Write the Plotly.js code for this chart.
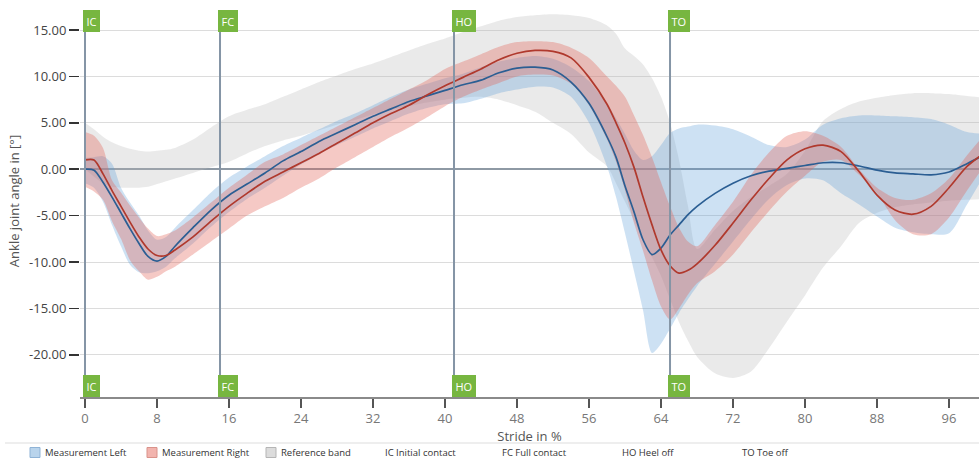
<!DOCTYPE html>
<html>
<head>
<meta charset="utf-8">
<script src="https://cdn.plot.ly/plotly-3.0.1.min.js"></script>
<style>
  html, body { margin: 0; padding: 0; background: #ffffff; }
  #chart { width: 979px; height: 461px; }
</style>
</head>
<body>
<div id="chart"></div>
<script>
// ---------------- data ----------------
const stride = [0,1,2,3,4,5,6,7,8,9,10,12,14,16,18,20,22,24,26,28,30,32,34,36,38,40,42,44,46,48,50,52,54,56,58,59,60,61,62,63,64,65,66,67,68,70,72,74,76,78,80,82,84,86,88,90,92,94,96,98,100];

const leftMean = [0.0,-0.1,-1.4,-3.0,-4.7,-6.4,-8.0,-9.4,-9.9,-9.4,-8.3,-6.3,-4.4,-2.8,-1.6,-0.4,0.9,1.9,3.0,3.9,4.8,5.7,6.5,7.3,7.9,8.5,9.1,9.6,10.4,10.9,11.0,10.7,9.4,7.1,3.5,1.3,-1.8,-4.6,-7.6,-9.2,-8.5,-7.1,-6.0,-4.9,-4.0,-2.6,-1.5,-0.7,-0.2,0.1,0.4,0.7,0.7,0.35,-0.1,-0.4,-0.5,-0.6,-0.3,0.6,1.6];
const leftUpper = [1.2,1.3,1.4,0.6,-2.0,-3.6,-5.0,-6.6,-7.6,-7.3,-6.3,-4.4,-2.5,-0.9,0.3,1.4,2.5,3.4,4.3,5.2,6.0,6.9,7.8,8.6,9.2,9.8,10.3,11.0,11.6,12.0,12.2,11.9,11.0,9.5,7.0,5.5,3.8,2.0,1.0,1.4,2.6,3.9,4.4,4.6,4.8,4.7,4.3,3.5,2.6,2.4,3.2,4.8,5.5,5.8,5.8,5.7,5.6,5.4,4.8,4.0,3.8];
const leftLower = [-1.5,-2.0,-3.5,-6.0,-8.3,-10.3,-11.1,-11.2,-11.0,-10.5,-9.6,-8.0,-6.2,-4.6,-3.2,-2.0,-0.7,0.5,1.6,2.6,3.5,4.4,5.2,6.0,6.6,7.0,7.1,7.6,8.2,8.6,8.9,8.8,7.8,5.0,0.3,-3.0,-6.9,-11.0,-15.2,-19.8,-18.8,-17.2,-15.5,-14.0,-12.6,-10.2,-7.8,-5.4,-3.2,-1.7,-1.0,-1.2,-2.6,-3.8,-5.1,-6.3,-6.8,-7.0,-6.9,-3.8,-0.5];

const rightMean = [1.0,1.0,-0.5,-2.3,-4.0,-5.7,-7.3,-8.6,-9.3,-9.3,-8.7,-7.3,-5.6,-4.0,-2.6,-1.3,-0.3,0.7,1.7,2.8,3.9,5.0,6.0,6.9,8.0,9.0,9.9,10.8,11.8,12.5,12.8,12.7,12.0,9.9,7.0,5.0,2.8,0.2,-3.0,-6.0,-8.7,-10.4,-11.2,-10.9,-10.2,-8.2,-5.8,-3.3,-1.0,1.0,2.2,2.6,1.9,-0.25,-2.8,-4.4,-4.85,-4.0,-2.0,0.3,1.8];
const rightUpper = [4.0,3.6,2.3,-1.2,-2.5,-3.9,-5.2,-6.4,-7.2,-7.0,-6.6,-5.2,-3.6,-2.0,-0.6,0.8,1.6,2.6,3.6,4.6,5.6,6.6,7.6,8.6,9.6,10.8,11.6,12.4,13.2,13.7,13.8,13.7,13.1,12.0,10.0,9.0,7.8,5.8,3.7,1.3,-1.4,-4.0,-6.3,-7.8,-8.3,-6.0,-3.5,-0.6,1.8,3.6,4.1,3.6,2.4,0.0,-2.0,-3.1,-3.3,-2.6,-1.0,1.5,3.8];
const rightLower = [-1.9,-2.4,-3.3,-5.6,-7.5,-9.8,-11.0,-11.9,-11.6,-11.0,-10.5,-9.2,-7.8,-6.4,-5.0,-4.0,-3.1,-2.0,-1.0,0.2,1.3,2.4,3.5,4.5,5.6,6.8,7.8,8.6,9.3,10.0,10.2,10.1,9.2,6.9,3.2,0.8,-2.3,-5.8,-8.8,-12.0,-14.8,-16.2,-15.0,-13.5,-12.3,-11.0,-9.2,-6.8,-4.5,-2.4,-0.7,0.8,1.0,-0.6,-2.6,-5.5,-7.0,-7.0,-5.2,-2.3,0.5];

const refUpper = [5.0,4.3,3.5,2.9,2.5,2.2,2.0,1.9,2.0,2.1,2.3,3.2,4.5,5.7,6.4,7.0,7.8,8.6,9.4,10.1,10.8,11.4,12.1,12.8,13.5,14.1,14.8,15.4,16.0,16.4,16.6,16.7,16.6,16.3,15.5,14.6,13.0,12.2,11.3,9.8,7.8,5.0,1.0,-4.0,-8.6,-6.5,-4.5,-3.0,-1.8,-0.5,2.0,5.2,6.5,7.3,7.7,8.0,8.2,8.2,8.1,7.9,7.7];
const refLower = [0.0,-0.8,-1.5,-1.9,-2.0,-2.0,-2.0,-1.9,-1.6,-1.3,-1.0,-0.4,0.2,0.8,1.7,2.5,3.1,3.6,4.2,4.8,5.3,5.9,6.4,6.8,7.2,7.5,7.7,7.8,7.5,6.9,6.2,5.0,3.8,1.8,0.3,-1.5,-3.5,-5.5,-7.5,-9.5,-11.5,-14.0,-16.5,-18.5,-20.2,-22.0,-22.5,-21.8,-19.3,-16.4,-13.6,-10.6,-8.3,-5.8,-4.7,-4.1,-3.8,-3.6,-3.4,-3.3,-3.2];

const eventPos = [0, 15, 41, 65];
const eventTags = ['IC', 'FC', 'HO', 'TO'];

const xTicks = [0, 8, 16, 24, 32, 40, 48, 56, 64, 72, 80, 88, 96];
const yTicks = [-20, -15, -10, -5, 0, 5, 10, 15];

const legendBoxLabels = ['Measurement Left', 'Measurement Right', 'Reference band'];
const legendTextLabels = ['IC Initial contact', 'FC Full contact', 'HO Heel off', 'TO Toe off'];

// ---------------- styling / layout ----------------
const W = 979, H = 461;
const M = {l: 80, r: 0, t: 5, b: 64};
const plotW = W - M.l - M.r, plotH = H - M.t - M.b;
const px2paperX = px => (px - M.l) / plotW;
const py2paperY = py => (H - M.b - py) / plotH;

const FONT = 'Open Sans, Noto Sans, sans-serif';
const cRefFill = 'rgba(185,185,185,0.30)';
const cLeftFill = 'rgba(90,155,215,0.30)';
const cRightFill = 'rgba(225,100,90,0.35)';

function edge(y) {
  return {x: stride, y: y, mode: 'lines', type: 'scatter',
          line: {width: 0, shape: 'spline', smoothing: 0.8},
          hoverinfo: 'skip', showlegend: false};
}
function band(lo, up, fillcolor) {
  const a = edge(lo);
  const b = edge(up);
  b.fill = 'tonexty';
  b.fillcolor = fillcolor;
  return [a, b];
}

const traces = [
  ...band(refLower, refUpper, cRefFill),
  ...band(leftLower, leftUpper, cLeftFill),
  ...band(rightLower, rightUpper, cRightFill),
  {x: stride, y: leftMean, mode: 'lines', type: 'scatter', name: 'Measurement Left',
   line: {color: '#2b5e93', width: 1.7, shape: 'spline', smoothing: 0.8}, showlegend: false},
  {x: stride, y: rightMean, mode: 'lines', type: 'scatter', name: 'Measurement Right',
   line: {color: '#b0392d', width: 1.7, shape: 'spline', smoothing: 0.8}, showlegend: false}
];

const shapes = [];
const annotations = [];

eventPos.forEach((ev, i) => {
  shapes.push({type: 'line', xref: 'x', yref: 'paper', x0: ev, x1: ev,
               y0: 0, y1: py2paperY(10), line: {color: '#8595a6', width: 2}, layer: 'above'});
  [{y: py2paperY(10), anchor: 'top'}, {y: 0, anchor: 'bottom'}].forEach(p => {
    annotations.push({text: eventTags[i], x: ev, xref: 'x', xanchor: 'left', xshift: -2,
                      y: p.y, yref: 'paper', yanchor: p.anchor, showarrow: false,
                      bgcolor: '#77b640', borderpad: 3.5, borderwidth: 0,
                      font: {family: FONT, size: 11, color: '#ffffff'}});
  });
});

// legend separator
shapes.push({type: 'line', xref: 'paper', yref: 'paper', x0: px2paperX(5), x1: px2paperX(979),
             y0: py2paperY(443), y1: py2paperY(443), line: {color: '#dddddd', width: 1}});

const legendY = 452.5;
const boxFill = ['#b9d4ec', '#f2b4ae', '#dcdcdc'];
const boxLine = ['#8fb3d6', '#d9928a', '#b5b5b5'];
const boxLeft = [30, 147, 266];
legendBoxLabels.forEach((t, i) => {
  shapes.push({type: 'rect', xref: 'paper', yref: 'paper',
               x0: px2paperX(boxLeft[i]), x1: px2paperX(boxLeft[i] + 10),
               y0: py2paperY(legendY + 5), y1: py2paperY(legendY - 5),
               fillcolor: boxFill[i], line: {color: boxLine[i], width: 1}});
  annotations.push({text: t, xref: 'paper', yref: 'paper', x: px2paperX(boxLeft[i] + 13),
                    y: py2paperY(legendY), xanchor: 'left', yanchor: 'middle', showarrow: false,
                    font: {family: FONT, size: 9.5, color: '#333333'}});
});
const textLeft = [383, 500, 620, 740];
legendTextLabels.forEach((t, i) => {
  annotations.push({text: t, xref: 'paper', yref: 'paper', x: px2paperX(textLeft[i]),
                    y: py2paperY(legendY), xanchor: 'left', yanchor: 'middle', showarrow: false,
                    font: {family: FONT, size: 9.5, color: '#333333'}});
});

const layout = {
  width: W, height: H,
  margin: {l: M.l, r: M.r, t: M.t, b: M.b, pad: 0},
  paper_bgcolor: '#ffffff', plot_bgcolor: '#ffffff',
  showlegend: false,
  font: {family: FONT},
  xaxis: {
    range: [-0.556, 99.33], tickvals: xTicks, ticktext: xTicks.map(String),
    ticks: 'outside', ticklen: 9, tickwidth: 1.5, tickcolor: '#555555',
    showline: true, linecolor: '#8a8a8a', linewidth: 1.5,
    showgrid: false, zeroline: false, automargin: false,
    tickfont: {family: FONT, size: 13, color: '#777777'},
    title: {text: 'Stride in %', font: {family: FONT, size: 13, color: '#555555'}, standoff: 0}
  },
  yaxis: {
    range: [-24.55, 17.7], tickvals: yTicks, ticktext: yTicks.map(v => v.toFixed(2)),
    ticks: 'outside', ticklen: 10, tickwidth: 1.5, tickcolor: '#333333',
    showline: false, showgrid: true, gridcolor: '#dcdcdc', gridwidth: 1,
    zeroline: true, zerolinecolor: '#8e99a4', zerolinewidth: 2, automargin: false,
    tickfont: {family: FONT, size: 13, color: '#444444'},
    title: {text: 'Ankle joint angle in [°]', font: {family: FONT, size: 13, color: '#555555'}, standoff: 6}
  },
  shapes: shapes,
  annotations: annotations
};

Plotly.newPlot('chart', traces, layout, {displayModeBar: false, staticPlot: true});
</script>
</body>
</html>
